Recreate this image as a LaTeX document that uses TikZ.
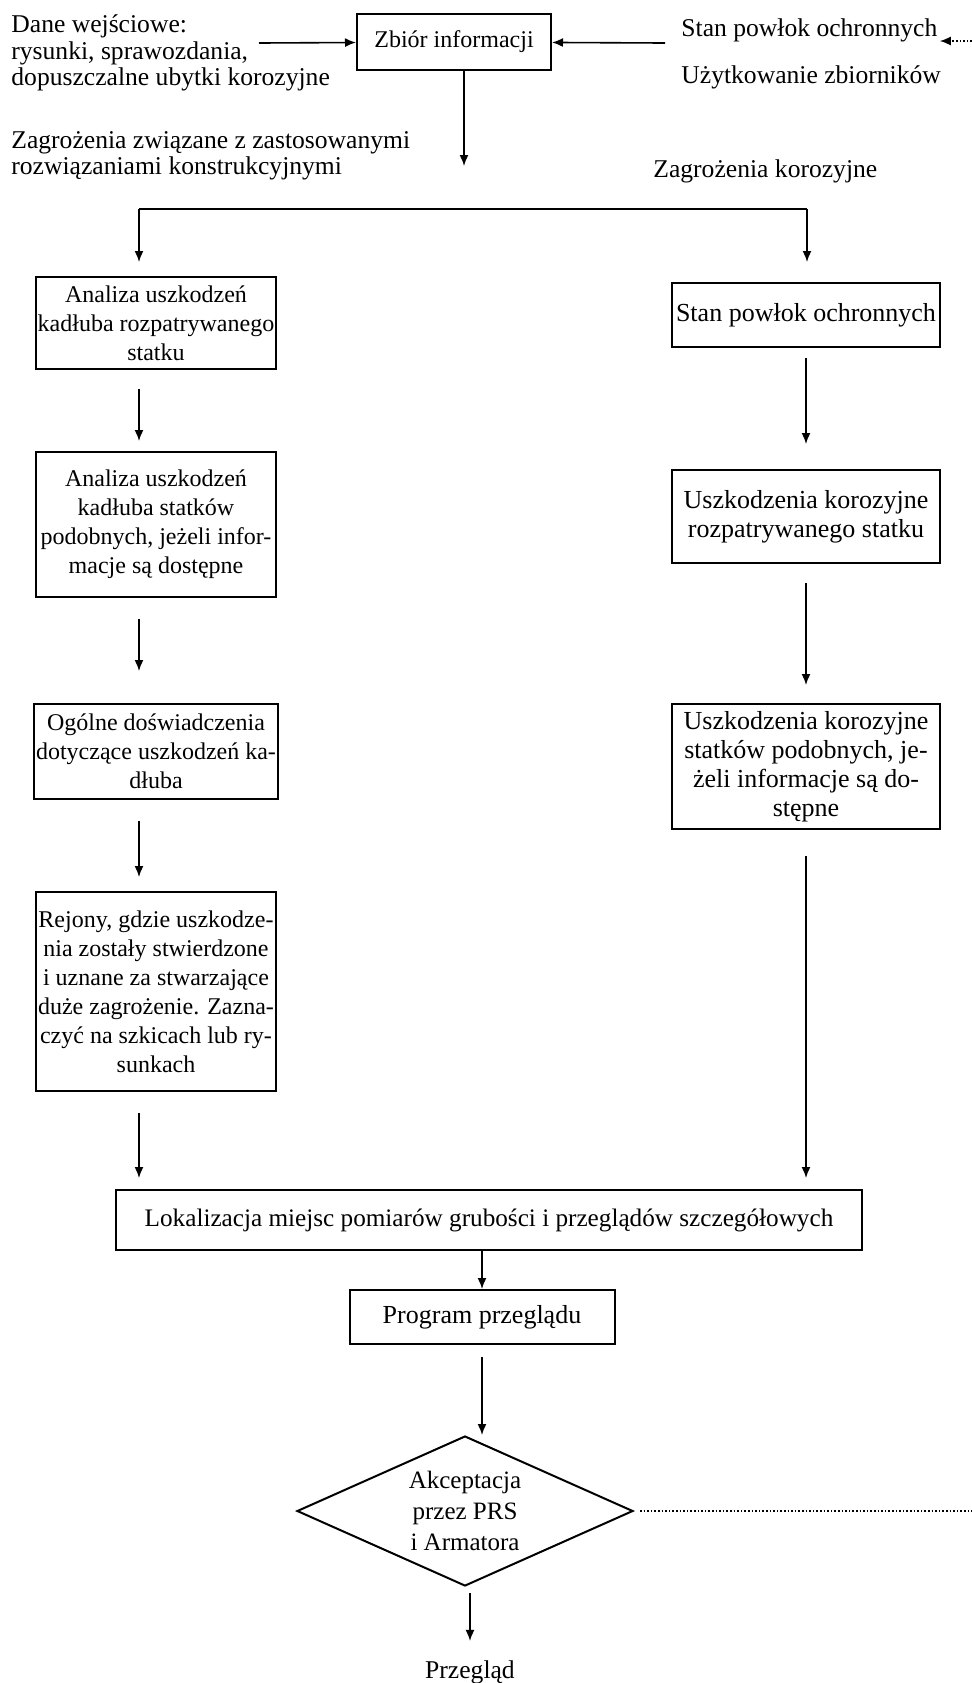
\documentclass[tikz,border=0pt]{standalone}
\usepackage{fontspec}
\setmainfont{Liberation Serif}
\usetikzlibrary{
    positioning,
    shapes.geometric,
    arrows.meta,
}
\tikzstyle{block} = [rectangle, draw, line width=1pt, align=center,
    inner sep=1pt, font=\fontsize{12}{14.5}\selectfont]
\tikzstyle{lblock} = [block, minimum width=120pt]
\tikzstyle{rblock} = [block, minimum width=134pt,
    font=\fontsize{13}{14.5}\selectfont]
\tikzstyle{note} = [align=left, inner sep=0pt,
    font=\fontsize{12.8}{13.2}\selectfont]
\tikzstyle{decision} = [diamond, draw, line width=1pt, aspect=2.2,
    minimum width=168pt, minimum height=75pt, inner sep=0pt,
    align=center, font=\fontsize{12.5}{15.5}\selectfont]
\tikzstyle{line} = [draw, line width=0.8pt]

\begin{document}
\begin{tikzpicture}[x=0.5pt, y=-0.5pt, >={Latex[length=5.5pt,width=4.5pt]}]
        \useasboundingbox (0,0) rectangle (972,1683);
        % Place nodes
        \node [block, minimum width=97pt, minimum height=28pt] (zbior) at (454,42) {Zbiór informacji};
        \node [note, anchor=west] (dane) at (11,53) {Dane wejściowe:\\rysunki, sprawozdania,\\dopuszczalne ubytki korozyjne};
        \node [note, anchor=west] (zagr_kon) at (11,156) {Zagrożenia związane z zastosowanymi\\rozwiązaniami konstrukcyjnymi};
        \node [note, anchor=west] (stan_in) at (681,30) {Stan powłok ochronnych};
        \node [note, anchor=west] (uzyt) at (681,77) {Użytkowanie zbiorników};
        \node [note, anchor=west] (zagr_kor) at (653,171) {Zagrożenia korozyjne};
        % left column
        \node [lblock, minimum height=46pt] (analiza1) at (156,323) {Analiza uszkodzeń\\kadłuba rozpatrywanego\\statku};
        \node [lblock, minimum height=72.5pt, below=40.5pt of analiza1] (analiza2) {Analiza uszkodzeń\\kadłuba statków\\podobnych, jeżeli infor-\\macje są dostępne};
        \node [lblock, minimum height=47.5pt, below=52.5pt of analiza2] (ogolne) {Ogólne doświadczenia\\dotyczące uszkodzeń ka-\\dłuba};
        \node [lblock, minimum height=99.5pt, below=45.5pt of ogolne] (rejony) {Rejony, gdzie uszkodze-\\nia zostały stwierdzone\\i uznane za stwarzające\\duże zagrożenie. Zazna-\\czyć na szkicach lub ry-\\sunkach};
        % right column
        \node [rblock, minimum height=32pt] (powloki) at (806,315) {Stan powłok ochronnych};
        \node [rblock, minimum height=46.5pt, below=60.5pt of powloki] (koroz1) {Uszkodzenia korozyjne\\rozpatrywanego statku};
        \node [rblock, minimum height=62.5pt, below=69.5pt of koroz1] (koroz2) {Uszkodzenia korozyjne\\statków podobnych, je-\\żeli informacje są do-\\stępne};
        % bottom part
        \node [block, minimum width=373pt, minimum height=30pt, font=\fontsize{12.6}{14.5}\selectfont] (lokal) at (489,1220) {Lokalizacja miejsc pomiarów grubości i przeglądów szczegółowych};
        \node [block, minimum width=132.5pt, minimum height=27pt, font=\fontsize{13}{14.5}\selectfont] (program) at (482,1317) {Program przeglądu};
        \node [decision] (akcept) at (465,1511) {Akceptacja\\przez PRS\\i Armatora};
        \node [note] (przeglad) at (470,1672) {Przegląd};
        % Free ends
        \coordinate (lcol) at (139,0);
        \coordinate (dane_out) at (259,43);
        \coordinate (stan_out) at (665,43);
        \coordinate (right_edge) at (972,41);
        \coordinate (zagr_end) at (464,166);
        \coordinate (split_l) at (139,209);
        \coordinate (split_r) at (807,209);
        \coordinate (diag_end) at (972,1511);
        % Draw edges
        \path [->,line] (dane_out) -- (zbior);
        \path [->,line] (stan_out) -- (zbior);
        \path [->,line,densely dotted,shorten >=1pt] (right_edge) -- (stan_in.east |- right_edge);
        \path [->,line] (zbior.south -| zagr_end) -- (zagr_end);
        \path [line] (split_l) -- (split_r);
        \path [->,line,shorten >=7pt] (split_l) -- (analiza1.north -| split_l);
        \path [->,line,shorten >=10pt] (split_r) -- (powloki.north -| split_r);
        \path [->,line,shorten <=9.5pt,shorten >=5pt] (analiza1.south -| lcol) -- (analiza2.north -| lcol);
        \path [->,line,shorten <=10.5pt,shorten >=16pt] (analiza2.south -| lcol) -- (ogolne.north -| lcol);
        \path [->,line,shorten <=10.5pt,shorten >=7pt] (ogolne.south -| lcol) -- (rejony.north -| lcol);
        \path [->,line,shorten <=10.5pt,shorten >=5.5pt] (rejony.south -| lcol) -- (lokal.north -| lcol);
        \path [->,line,shorten <=5pt,shorten >=12.5pt] (powloki) -- (koroz1);
        \path [->,line,shorten <=9.5pt,shorten >=9pt] (koroz1) -- (koroz2);
        \path [->,line,shorten <=13pt,shorten >=5.5pt] (koroz2.south) -- (lokal.north -| koroz2.south);
        \path [->,line] (lokal.south -| program.north) -- (program.north);
        \path [->,line,shorten <=6pt] (program.south) -- (program.south |- akcept.north);
        \path [->,line,shorten <=3pt,shorten >=9.5pt] (akcept.south -| przeglad) -- (przeglad);
        \path [line,densely dotted,shorten <=3pt] (akcept.east) -- (diag_end);
    \end{tikzpicture}
\end{document}
